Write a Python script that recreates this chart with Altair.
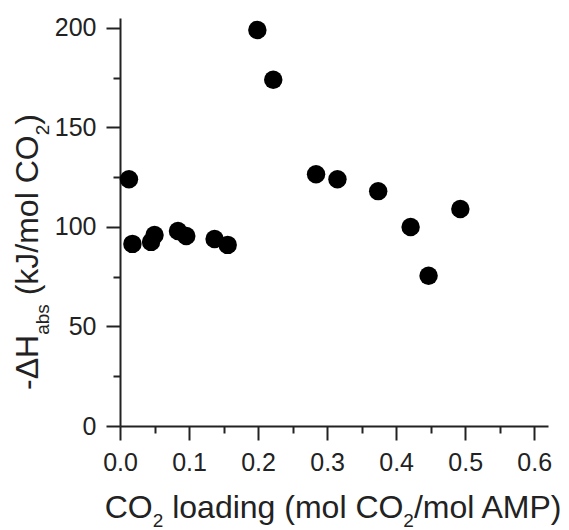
import altair as alt
import pandas as pd

# ---- data ----
loading = [0.013, 0.018, 0.045, 0.050, 0.084, 0.096, 0.137, 0.156,
           0.199, 0.222, 0.284, 0.315, 0.374, 0.421, 0.447, 0.493]
dh_abs = [124, 91.5, 92.5, 96, 98, 95.5, 94, 91,
          199, 174, 126.5, 124, 118, 100, 75.5, 109]

x_major = [0.0, 0.1, 0.2, 0.3, 0.4, 0.5, 0.6]
x_minor = [0.05, 0.15, 0.25, 0.35, 0.45, 0.55]
y_major = [0, 50, 100, 150, 200]
y_minor = [25, 75, 125, 175]

x_title = [("CO", False), ("2", True), (" loading (mol CO", False), ("2", True), ("/mol AMP)", False)]
y_title = [("-ΔH", False), ("abs", True), (" (kJ/mol CO", False), ("2", True), (")", False)]

df = pd.DataFrame({"loading": loading, "dh": dh_abs})

W, H = 428, 408
FONT = "Liberation Sans"
INK = "#222222"
MAIN_SIZE = 32
SUB_SIZE = 19

# Arial / Liberation Sans advance widths (per 1000 em)
ARIAL = {
    "C": 722, "O": 778, " ": 278, "l": 222, "o": 556, "a": 556, "d": 556,
    "i": 222, "n": 556, "g": 556, "(": 333, ")": 333, "m": 833, "/": 278,
    "A": 667, "M": 833, "P": 667, "-": 333, "Δ": 668, "H": 722, "k": 500,
    "J": 500, "2": 556, "b": 556, "s": 500,
}


def width(text, size):
    return sum(ARIAL.get(c, 556) for c in text) / 1000.0 * size


x_scale = alt.Scale(domain=[0, 0.62], nice=False, zero=False)
y_scale = alt.Scale(domain=[0, 205], nice=False)

x_axis = alt.Axis(
    values=x_major + x_minor,
    labelExpr="abs(datum.value*10 - round(datum.value*10)) < 1e-6 ? format(datum.value, '.1f') : ''",
    tickSize={"condition": {"test": "abs(datum.value*10 - round(datum.value*10)) < 1e-6", "value": 14}, "value": 7},
    labelPadding=10,
    labelFlush=False,
    labelOverlap=False,
    title=None,
    grid=False,
)
y_axis = alt.Axis(
    values=y_major + y_minor,
    labelExpr="datum.value % 50 === 0 ? format(datum.value, 'd') : ''",
    tickSize={"condition": {"test": "datum.value % 50 === 0", "value": 14}, "value": 7},
    labelPadding=10,
    labelFlush=False,
    labelOverlap=False,
    title=None,
    grid=False,
)

points = alt.Chart(df).mark_circle(size=340, color="black", opacity=1).encode(
    x=alt.X("loading:Q", scale=x_scale, axis=x_axis),
    y=alt.Y("dh:Q", scale=y_scale, axis=y_axis),
)

one = alt.Data(values=[{"k": 1}])
layers = [points]


def split_lead(t):
    stripped = t.lstrip(" ")
    return stripped, len(t) - len(stripped)


# x title (horizontal, centred under the plot)
total = sum(width(t, SUB_SIZE if s else MAIN_SIZE) for t, s in x_title)
cur = W / 2 - total / 2
base_y = 500
for t, s in x_title:
    size = SUB_SIZE if s else MAIN_SIZE
    txt, lead = split_lead(t)
    cur += lead * width(" ", size)
    layers.append(
        alt.Chart(one).mark_text(
            text=txt, font=FONT, fontSize=size, color=INK, align="left", baseline="alphabetic"
        ).encode(x=alt.value(cur), y=alt.value(base_y + (9 if s else 0)))
    )
    cur += width(txt, size)

# y title (rotated, reading upward)
cur = 372
base_x = -82
for t, s in y_title:
    size = SUB_SIZE if s else MAIN_SIZE
    txt, lead = split_lead(t)
    cur -= lead * width(" ", size)
    layers.append(
        alt.Chart(one).mark_text(
            text=txt, font=FONT, fontSize=size, color=INK, align="left", baseline="alphabetic", angle=270
        ).encode(x=alt.value(base_x + (11 if s else 0)), y=alt.value(cur))
    )
    cur -= width(txt, size)

chart = alt.layer(*layers).properties(
    width=W, height=H,
    autosize=alt.AutoSizeParams(type="none"),
    padding={"left": 112, "top": 10, "right": 13, "bottom": 104},
).configure_view(stroke=None).configure_axis(
    domainColor=INK, domainWidth=2, tickColor=INK, tickWidth=2,
    labelFont=FONT, labelFontSize=25, labelColor=INK,
)

chart.save("out.html", embed_options={"renderer": "svg", "actions": False})
